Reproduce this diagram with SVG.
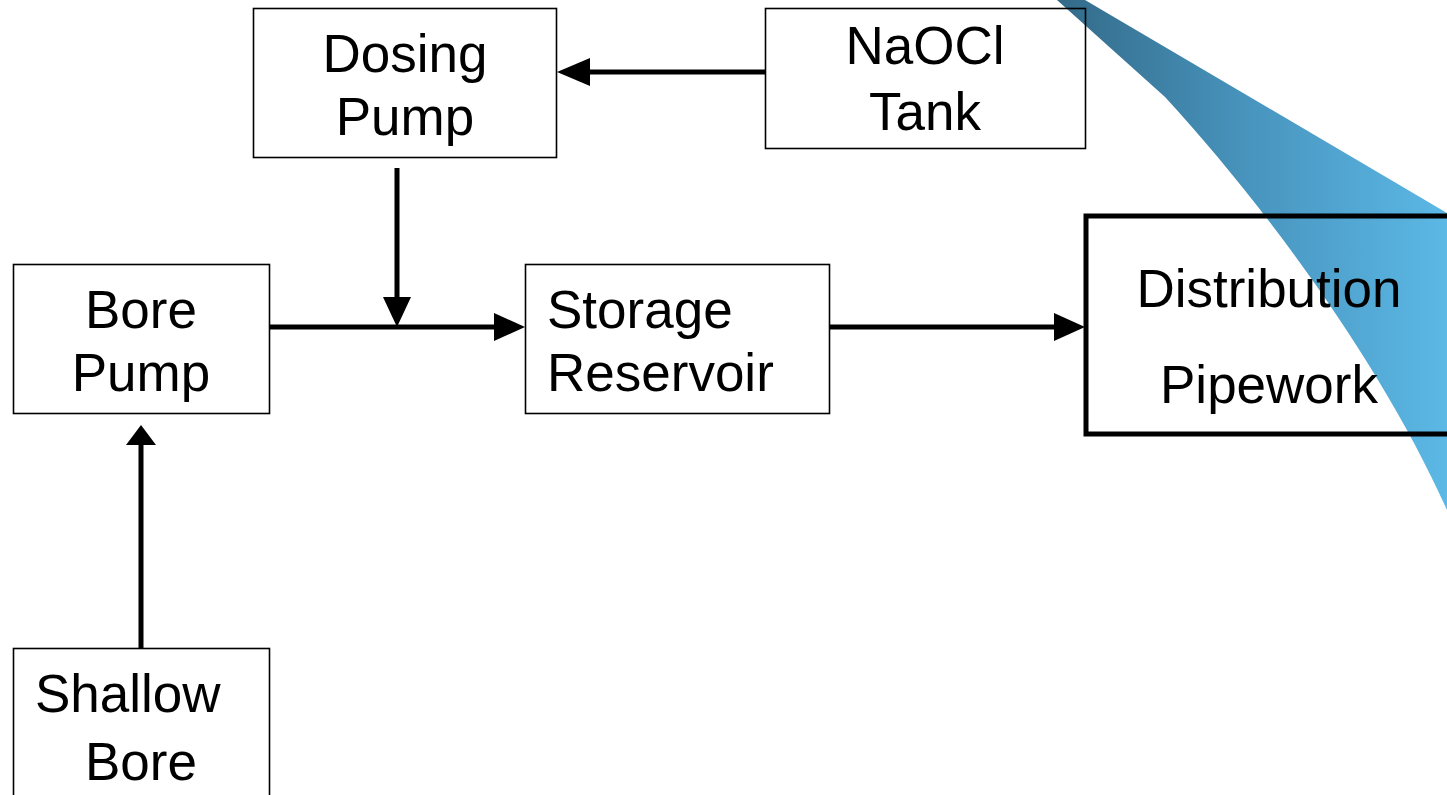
<svg xmlns="http://www.w3.org/2000/svg" width="1447" height="795" viewBox="0 0 1447 795">
<style>
.box{fill:none;stroke:#000;stroke-width:1.6}
.thick{fill:none;stroke:#000;stroke-width:5}
.lbl{font-family:"Liberation Sans",Arial,sans-serif;font-size:53px;fill:#000}
.c{text-anchor:middle}
.conn{stroke:#000;stroke-width:5;fill:none}
.head{fill:#000}
</style>
<defs>
<linearGradient id="blue" gradientUnits="userSpaceOnUse" x1="1057" y1="0" x2="1447" y2="0">
<stop offset="0" stop-color="#336a88"/>
<stop offset="0.5" stop-color="#4895bf"/>
<stop offset="1" stop-color="#5cb8e5"/>
</linearGradient>
</defs>
<rect width="1447" height="795" fill="#fff"/>
<path d="M1057,0 L1085,0 L1447,213 L1447,510 C1380,360 1260,200 1165,97 Z" fill="url(#blue)"/>
<g id="dosing-pump">
<rect class="box" x="253.5" y="8.5" width="303" height="149"/>
<text class="lbl c" x="405" y="72">Dosing</text>
<text class="lbl c" x="405" y="135">Pump</text>
</g>
<g id="naocl-tank">
<rect class="box" x="765.5" y="8.5" width="320" height="140"/>
<text class="lbl c" x="925" y="64">NaOCl</text>
<text class="lbl c" x="925" y="130">Tank</text>
</g>
<g id="bore-pump">
<rect class="box" x="13.5" y="264.5" width="256" height="149"/>
<text class="lbl c" x="141" y="328">Bore</text>
<text class="lbl c" x="141" y="391">Pump</text>
</g>
<g id="storage-reservoir">
<rect class="box" x="525.5" y="264.5" width="304" height="149"/>
<text class="lbl" x="547" y="328">Storage</text>
<text class="lbl" x="547" y="391">Reservoir</text>
</g>
<g id="distribution-pipework">
<rect class="thick" x="1086" y="216" width="370" height="218"/>
<text class="lbl c" x="1269" y="307">Distribution</text>
<text class="lbl c" x="1269" y="403">Pipework</text>
</g>
<g id="shallow-bore">
<rect class="box" x="13.5" y="648.5" width="256" height="160"/>
<text class="lbl" x="35" y="712">Shallow</text>
<text class="lbl c" x="141" y="780">Bore</text>
</g>
<g id="connectors">
<line class="conn" x1="765" y1="72" x2="588" y2="72"/>
<polygon class="head" points="557,72 590,58 590,86"/>
<line class="conn" x1="397" y1="168" x2="397" y2="300"/>
<polygon class="head" points="397,327 383,297 411,297"/>
<line class="conn" x1="269" y1="327" x2="497" y2="327"/>
<polygon class="head" points="525,327 494,313 494,341"/>
<line class="conn" x1="829" y1="327" x2="1057" y2="327"/>
<polygon class="head" points="1085,327 1054,313 1054,341"/>
<line class="conn" x1="141" y1="648" x2="141" y2="443"/>
<polygon class="head" points="141,425 126,445 156,445"/>
</g>
</svg>
